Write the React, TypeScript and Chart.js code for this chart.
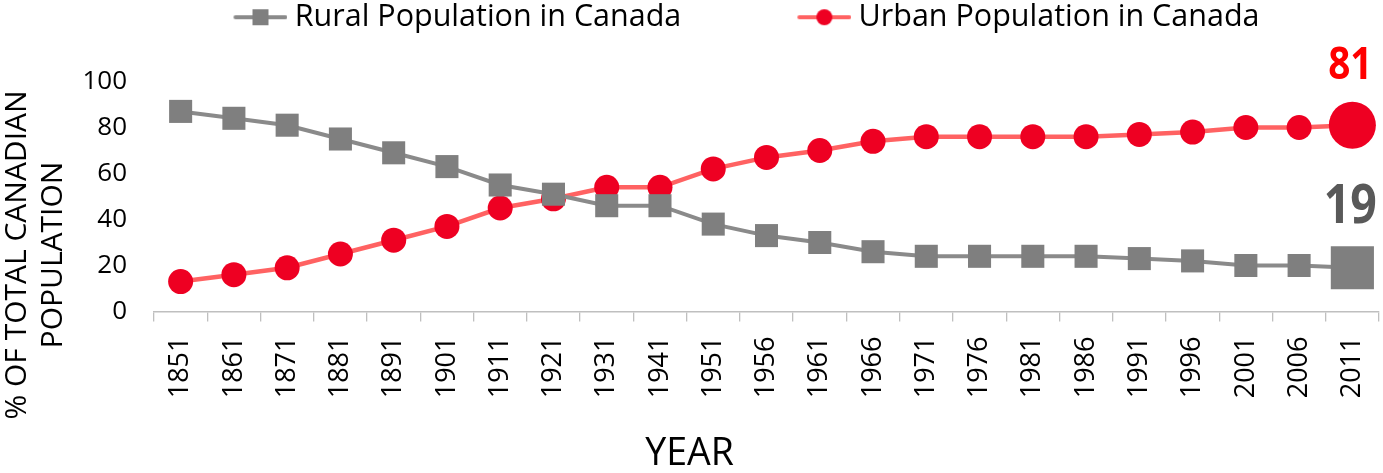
import React, { useEffect, useRef } from 'react';
import { Chart, registerables } from 'chart.js';

Chart.register(...registerables);

const years = ['1851', '1861', '1871', '1881', '1891', '1901', '1911', '1921', '1931', '1941', '1951', '1956', '1961', '1966', '1971', '1976', '1981', '1986', '1991', '1996', '2001', '2006', '2011'];
const rural = [87, 84, 81, 75, 69, 63, 55, 51, 46, 46, 38, 33, 30, 26, 24, 24, 24, 24, 23, 22, 20, 20, 19];
const urban = [13, 16, 19, 25, 31, 37, 45, 49, 54, 54, 62, 67, 70, 74, 76, 76, 76, 76, 77, 78, 80, 80, 81];
const seriesNames = ['Rural Population in Canada', 'Urban Population in Canada'];
const yTicks = [0, 20, 40, 60, 80, 100];
const yTitleLines = ['% OF TOTAL CANADIAN', 'POPULATION'];
const xTitle = 'YEAR';

const FONT = "'Open Sans', 'DejaVu Sans', sans-serif";
const RURAL_LINE = '#8A8A8A';
const RURAL_MARK = '#7F7F7F';
const URBAN_LINE = '#FF6262';
const URBAN_MARK = '#EE0022';
const RURAL_LABEL = '#595959';
const URBAN_LABEL = '#FF0000';

function makeLegendIcon(lineColor: string, markColor: string, shape: 'rect' | 'circle') {
  const c = document.createElement('canvas');
  c.width = 176;
  c.height = 20;
  const ctx = c.getContext('2d')!;
  ctx.strokeStyle = lineColor;
  ctx.lineWidth = 4;
  ctx.lineCap = 'round';
  ctx.beginPath();
  ctx.moveTo(124, 10);
  ctx.lineTo(174, 10);
  ctx.stroke();
  ctx.fillStyle = markColor;
  if (shape === 'rect') {
    ctx.fillRect(149 - 8, 10 - 8, 16, 16);
  } else {
    ctx.beginPath();
    ctx.arc(149, 10, 8, 0, Math.PI * 2);
    ctx.fill();
  }
  return c;
}

const lastIdx = years.length - 1;

const yTitlePlugin = {
  id: 'yTitleLines',
  afterDraw(chart: any) {
    const ctx = chart.ctx;
    ctx.save();
    ctx.fillStyle = '#000';
    ctx.font = `30px ${FONT}`;
    ctx.textAlign = 'center';
    ctx.textBaseline = 'middle';
    const xs = [17, 53];
    yTitleLines.forEach((line, i) => {
      ctx.save();
      ctx.translate(xs[i], 255);
      ctx.rotate(-Math.PI / 2);
      ctx.fillText(line, 0, 0);
      ctx.restore();
    });
    ctx.restore();
  },
};

const endLabelPlugin = {
  id: 'endLabels',
  afterDatasetsDraw(chart: any) {
    const ctx = chart.ctx;
    const cfgs = [
      { ds: 0, color: RURAL_LABEL, size: 54, half: 21.5 },
      { ds: 1, color: URBAN_LABEL, size: 45, half: 23.5 },
    ];
    cfgs.forEach((c) => {
      const meta = chart.getDatasetMeta(c.ds);
      const el = meta.data[lastIdx];
      if (!el) return;
      const value = chart.data.datasets[c.ds].data[lastIdx];
      ctx.save();
      ctx.fillStyle = c.color;
      ctx.font = `bold ${c.size}px ${FONT}`;
      ctx.textAlign = 'center';
      ctx.textBaseline = 'alphabetic';
      ctx.translate(el.x - 2, el.y - c.half - 23);
      ctx.scale(0.86, 1);
      ctx.fillText(String(value), 0, 0);
      ctx.restore();
    });
  },
};

export default function App() {
  const ref = useRef<HTMLCanvasElement | null>(null);

  useEffect(() => {
    if (!ref.current) return;
    const icons = [
      makeLegendIcon(RURAL_LINE, RURAL_MARK, 'rect'),
      makeLegendIcon(URBAN_LINE, URBAN_MARK, 'circle'),
    ];
    const chart = new Chart(ref.current, {
      type: 'line',
      data: {
        labels: years,
        datasets: [
          {
            label: seriesNames[0],
            data: rural,
            borderColor: RURAL_LINE,
            borderWidth: 4,
            backgroundColor: RURAL_MARK,
            pointStyle: 'rect',
            pointBackgroundColor: RURAL_MARK,
            pointBorderWidth: 0,
            pointRadius: rural.map((_, i) => (i === lastIdx ? 30.5 : 16.3)),
            pointHoverRadius: rural.map((_, i) => (i === lastIdx ? 30.5 : 16.3)),
            tension: 0,
            clip: false,
          },
          {
            label: seriesNames[1],
            data: urban,
            borderColor: URBAN_LINE,
            borderWidth: 4.5,
            backgroundColor: URBAN_MARK,
            pointStyle: 'circle',
            pointBackgroundColor: URBAN_MARK,
            pointBorderWidth: 0,
            pointRadius: urban.map((_, i) => (i === lastIdx ? 23.5 : 12.5)),
            pointHoverRadius: urban.map((_, i) => (i === lastIdx ? 23.5 : 12.5)),
            tension: 0,
            clip: false,
          },
        ],
      },
      options: {
        responsive: false,
        animation: false,
        devicePixelRatio: 1,
        layout: { autoPadding: false, padding: { left: 0, right: 4, top: 0, bottom: 0 } },
        font: { family: FONT },
        color: '#000',
        plugins: {
          legend: {
            display: true,
            position: 'top',
            align: 'center',
            labels: {
              usePointStyle: true,
              pointStyleWidth: 160,
              padding: 2,
              color: '#000',
              font: { family: FONT, size: 30.5 },
              generateLabels: (ch: any) =>
                ch.data.datasets.map((ds: any, i: number) => ({
                  text: ds.label,
                  pointStyle: icons[i],
                  fillStyle: ds.backgroundColor,
                  strokeStyle: ds.borderColor,
                  lineWidth: 0,
                  hidden: false,
                  datasetIndex: i,
                  fontColor: '#000',
                })),
            },
          },
          subtitle: {
            display: true,
            text: ' ',
            position: 'top',
            weight: 500,
            padding: 0,
            font: { size: 39, lineHeight: 1 },
          } as any,
          title: {
            display: true,
            text: xTitle,
            position: 'bottom',
            color: '#000',
            padding: 0,
            font: { family: FONT, size: 37.5, weight: 'normal', lineHeight: 1 },
          },
          tooltip: { enabled: false },
        },
        scales: {
          x: {
            type: 'category',
            offset: true,
            grid: {
              display: true,
              drawOnChartArea: false,
              drawTicks: true,
              tickLength: 10,
              color: '#BFBFBF',
              lineWidth: 1.3,
              offset: true,
            },
            border: { display: true, color: '#BFBFBF', width: 1.5 },
            ticks: {
              color: '#000',
              font: { family: FONT, size: 27 },
              minRotation: 90,
              maxRotation: 90,
              padding: 15,
              autoSkip: false,
            },
            afterFit: (scale: any) => {
              scale.height = 124;
              scale.paddingLeft = 0;
              scale.paddingRight = 0;
            },
          },
          y: {
            min: 0,
            max: 100,
            grid: { display: false, drawTicks: false },
            border: { display: false },
            afterBuildTicks: (scale: any) => {
              scale.ticks = yTicks.map((v) => ({ value: v }));
            },
            ticks: {
              color: '#000',
              font: { family: FONT, size: 26 },
              padding: 27,
              stepSize: 20,
            },
            afterFit: (scale: any) => {
              scale.width = 154;
            },
          },
        },
      },
      plugins: [yTitlePlugin, endLabelPlugin],
    } as any);
    return () => chart.destroy();
  }, []);

  return (
    <div style={{ position: 'fixed', left: 0, top: 0, width: 1383, height: 473, background: '#fff' }}>
      <canvas ref={ref} width={1383} height={473} style={{ display: 'block' }} />
    </div>
  );
}
